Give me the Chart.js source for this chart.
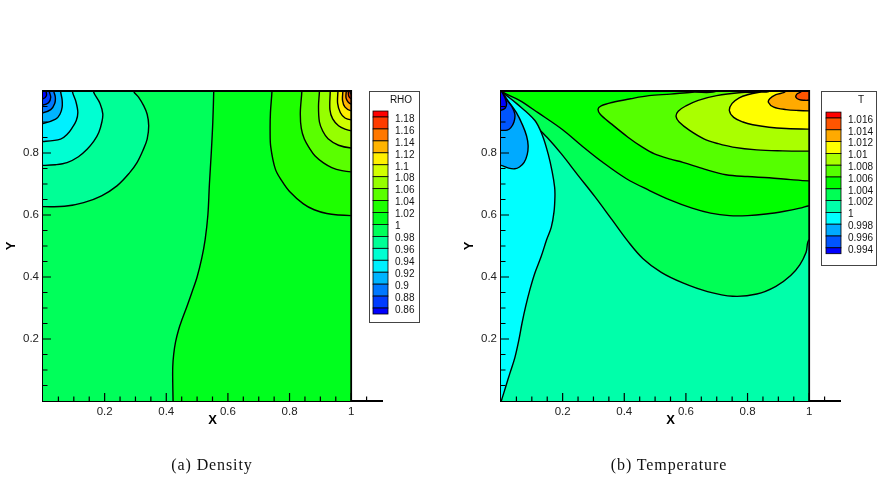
<!DOCTYPE html>
<html>
<head>
<meta charset="utf-8">
<script src="https://cdn.jsdelivr.net/npm/chart.js@4"></script>
<style>
  html, body { margin: 0; padding: 0; background: #fff; }
  body { width: 886px; height: 480px; position: relative; overflow: hidden; }
  .panel { position: absolute; top: 0; width: 428px; height: 480px; }
  .caption {
    position: absolute; top: 455px; line-height: 20px;
    font-family: "Liberation Serif", "Times New Roman", serif; font-size: 16px;
    letter-spacing: 0.9px; color: #111; transform: translateX(-50%); white-space: nowrap;
  }
</style>
</head>
<body>
<div class="panel" style="left:0"><canvas id="rhoChart"></canvas></div>
<div class="panel" style="left:458px"><canvas id="tChart"></canvas></div>
<div class="caption" style="left:212px">(a) Density</div>
<div class="caption" style="left:669px">(b) Temperature</div>
<script>
// legend levels
var rhoLevels = ['1.18', '1.16', '1.14', '1.12', '1.1', '1.08', '1.06', '1.04', '1.02', '1',
    '0.98', '0.96', '0.94', '0.92', '0.9', '0.88', '0.86'];
var tLevels = ['1.016', '1.014', '1.012', '1.01', '1.008', '1.006', '1.004', '1.002', '1',
    '0.998', '0.996', '0.994'];

// axis ticks
var xMajor = [0.2, 0.4, 0.6, 0.8, 1];
var yMajor = [0.2, 0.4, 0.6, 0.8];
var xTicks = [];
for (var i = 0; i <= 21; i++) xTicks.push(i * 5 / 100);
var yTicks = [];
for (var j = 0; j <= 20; j++) yTicks.push(j * 5 / 100);

var domain = [[0, 0], [1, 0], [1, 1], [0, 1]];

// density contour lines (x, y)
var rho100 = [[0.554, 1], [0.551, 0.9], [0.546, 0.8], [0.54, 0.7], [0.535, 0.6], [0.526, 0.52],
    [0.515, 0.46], [0.5, 0.4], [0.483, 0.35], [0.467, 0.305], [0.452, 0.265], [0.44, 0.23],
    [0.43, 0.19], [0.424, 0.15], [0.421, 0.11], [0.421, 0.06], [0.422, 0]];
var rho102 = [[0.743, 1], [0.738, 0.93], [0.737, 0.87], [0.739, 0.82], [0.754, 0.748], [0.775, 0.71],
    [0.8, 0.676], [0.845, 0.636], [0.88, 0.617], [0.921, 0.605], [0.96, 0.6], [1, 0.598]];
var rho104 = [[0.84, 1], [0.835, 0.931], [0.838, 0.88], [0.848, 0.845], [0.865, 0.815], [0.883, 0.79],
    [0.91, 0.768], [0.937, 0.753], [0.97, 0.743], [1, 0.739]];
var rho106 = [[0.897, 1], [0.894, 0.95], [0.897, 0.9], [0.908, 0.87], [0.925, 0.846], [0.959, 0.825], [1, 0.816]];
var rho108 = [[0.932, 1], [0.931, 0.94], [0.94, 0.91], [0.959, 0.888], [0.98, 0.877], [1, 0.872]];
var rho110 = [[0.957, 1], [0.956, 0.96], [0.965, 0.93], [0.98, 0.913], [1, 0.907]];
var rho112 = [[0.973, 1], [0.972, 0.97], [0.98, 0.948], [1, 0.936]];
var rho114 = [[0.984, 1], [0.984, 0.975], [1, 0.958]];
var rho116 = [[0.991, 1], [0.992, 0.984], [1, 0.975]];
var rho118 = [[0.996, 1], [1, 0.99]];
var rho098 = [[0, 0.627], [0.07, 0.628], [0.132, 0.64], [0.19, 0.662], [0.24, 0.694], [0.28, 0.735],
    [0.305, 0.769], [0.325, 0.81], [0.338, 0.845], [0.343, 0.888], [0.338, 0.925], [0.327, 0.952],
    [0.31, 0.98], [0.294, 1]];
var rho096 = [[0, 0.76], [0.04, 0.762], [0.078, 0.769], [0.115, 0.788], [0.143, 0.812], [0.165, 0.838],
    [0.181, 0.866], [0.191, 0.9], [0.194, 0.926], [0.185, 0.96], [0.163, 1]];
var rho094 = [[0, 0.837], [0.057, 0.845], [0.08, 0.862], [0.095, 0.882], [0.108, 0.905], [0.113, 0.931],
    [0.107, 0.965], [0.095, 1]];
var rho092 = [[0, 0.895], [0.041, 0.909], [0.055, 0.925], [0.062, 0.947], [0.062, 0.972], [0.057, 1]];
var rho090 = [[0, 0.93], [0.025, 0.94], [0.038, 0.96], [0.04, 0.98], [0.035, 1]];
var rho088 = [[0, 0.955], [0.018, 0.962], [0.025, 0.98], [0.02, 1]];
var rho086 = [[0, 0.975], [0.011, 0.985], [0.01, 1]];

// temperature contour lines
var t1000 = [[0, 1], [0.05, 0.96], [0.11, 0.905], [0.135, 0.855], [0.153, 0.797], [0.166, 0.74],
    [0.174, 0.69], [0.175, 0.66], [0.172, 0.61], [0.163, 0.56], [0.148, 0.52], [0.13, 0.465],
    [0.11, 0.413], [0.094, 0.36], [0.08, 0.305], [0.068, 0.25], [0.058, 0.197], [0.045, 0.14],
    [0.029, 0.09], [0.015, 0.045], [0.004, 0.01], [0, 0]];
var t1002 = [[0, 1], [0.04, 0.965], [0.1, 0.9], [0.15, 0.85], [0.196, 0.797], [0.25, 0.728],
    [0.304, 0.66], [0.36, 0.585], [0.412, 0.515], [0.46, 0.46], [0.52, 0.415], [0.59, 0.381],
    [0.67, 0.353], [0.752, 0.338], [0.83, 0.345], [0.892, 0.37], [0.94, 0.405], [0.97, 0.44],
    [0.99, 0.48], [1, 0.52]];
var t1004 = [[0, 1], [0.06, 0.97], [0.12, 0.93], [0.2, 0.875], [0.26, 0.825], [0.33, 0.77],
    [0.407, 0.717], [0.482, 0.679], [0.55, 0.648], [0.62, 0.622], [0.68, 0.606], [0.741, 0.598],
    [0.8, 0.598], [0.86, 0.603], [0.92, 0.612], [0.97, 0.622], [1, 0.63]];
var t1006 = [[0.7, 1], [0.62, 0.996], [0.55, 0.99], [0.48, 0.985], [0.42, 0.975], [0.36, 0.963],
    [0.325, 0.952], [0.315, 0.942], [0.322, 0.925], [0.358, 0.894], [0.412, 0.851], [0.46, 0.818],
    [0.498, 0.797], [0.55, 0.78], [0.59, 0.77], [0.66, 0.748], [0.73, 0.73], [0.8, 0.724],
    [0.87, 0.72], [0.94, 0.714], [1, 0.71]];
var t1008 = [[0.86, 1], [0.78, 0.995], [0.7, 0.985], [0.64, 0.97], [0.6, 0.952], [0.575, 0.935],
    [0.568, 0.918], [0.578, 0.9], [0.612, 0.873], [0.66, 0.845], [0.705, 0.83], [0.752, 0.819],
    [0.83, 0.81], [0.914, 0.807], [1, 0.806]];
var t1010 = [[0.87, 1], [0.838, 0.996], [0.8, 0.988], [0.773, 0.978], [0.75, 0.96], [0.741, 0.937],
    [0.755, 0.915], [0.785, 0.9], [0.817, 0.891], [0.87, 0.883], [0.925, 0.879], [1, 0.877]];
var t1012 = [[0.925, 1], [0.892, 0.988], [0.872, 0.975], [0.868, 0.963], [0.885, 0.948], [0.925, 0.94],
    [0.965, 0.937], [1, 0.936]];
var t1014 = [[0.975, 1], [0.96, 0.99], [0.957, 0.98], [0.968, 0.972], [0.985, 0.97], [1, 0.97]];
var t0998 = [[0, 1], [0.025, 0.965], [0.05, 0.93], [0.07, 0.89], [0.083, 0.855], [0.088, 0.824],
    [0.085, 0.795], [0.075, 0.77], [0.06, 0.755], [0.045, 0.749], [0.025, 0.751], [0, 0.76]];
var t0996 = [[0, 1], [0.02, 0.97], [0.035, 0.95], [0.045, 0.925], [0.042, 0.9], [0.032, 0.882],
    [0.02, 0.874], [0, 0.873]];
var t0994 = [[0, 1], [0.012, 0.98], [0.018, 0.96], [0.014, 0.945], [0, 0.938]];

// rainbow band colour, 0 = top of legend (red)
function band(k, n) {
    return 'hsl(' + (240 * k / (n - 1)) + ',100%,50%)';
}

// push the ends of a contour a little past the edge it ends on, so the
// smoothing does not bend the visible part; the square is clipped anyway
var E = 0.04;
function outward(p) {
    var q = [p[0], p[1]];
    if (p[0] <= 0) q[0] = -E;
    if (p[0] >= 1) q[0] = 1 + E;
    if (p[1] <= 0) q[1] = -E;
    if (p[1] >= 1) q[1] = 1 + E;
    return q;
}
function extend(pts) {
    return [outward(pts[0])].concat(pts, [outward(pts[pts.length - 1])]);
}

function region(pts, color, line) {
    return {
        data: pts.map(function (p) { return { x: p[0], y: p[1] }; }),
        showLine: true,
        fill: 'shape',
        backgroundColor: color,
        borderColor: line ? '#000' : 'rgba(0,0,0,0)',
        borderWidth: line ? 1.4 : 0,
        pointRadius: 0,
        tension: line ? 0.35 : 0
    };
}

function buildDatasets(layers, n) {
    return layers.map(function (l, i) {
        var ds = region(l[0], band(l[1], n), l[0] !== domain);
        ds.order = layers.length - i;
        return ds;
    });
}

var TR = [[1 + E, 1 + E]], TL = [[-E, 1 + E]], BR = [[1 + E, -E], [1 + E, 1 + E]];
var rhoLayers = [
    [domain, 10],
    [extend(rho100).concat(BR), 9],
    [extend(rho102).concat(TR), 8], [extend(rho104).concat(TR), 7], [extend(rho106).concat(TR), 6],
    [extend(rho108).concat(TR), 5], [extend(rho110).concat(TR), 4], [extend(rho112).concat(TR), 3],
    [extend(rho114).concat(TR), 2], [extend(rho116).concat(TR), 1], [extend(rho118).concat(TR), 0],
    [extend(rho098).concat(TL), 11], [extend(rho096).concat(TL), 12], [extend(rho094).concat(TL), 13],
    [extend(rho092).concat(TL), 14], [extend(rho090).concat(TL), 15], [extend(rho088).concat(TL), 16],
    [extend(rho086).concat(TL), 17]
];
var tLayers = [
    [domain, 8],
    [extend(t1002).concat(TR), 7], [extend(t1004).concat(TR), 6], [extend(t1006).concat(TR), 5],
    [extend(t1008).concat(TR), 4], [extend(t1010).concat(TR), 3], [extend(t1012).concat(TR), 2],
    [extend(t1014).concat(TR), 1],
    [extend(t1000), 9], [extend(t0998), 10], [extend(t0996), 11], [extend(t0994), 12]
];

function isMajor(v, list) {
    return list.some(function (m) { return Math.abs(m - v) < 1e-6; });
}

// clip fills to the unit square, then frame, inward ticks and the level legend
var contourFrame = {
    id: 'contourFrame',
    beforeDatasetsDraw: function (chart) {
        var ctx = chart.ctx, x = chart.scales.x, y = chart.scales.y;
        var l = x.getPixelForValue(0), r = x.getPixelForValue(1);
        var t = y.getPixelForValue(1), b = y.getPixelForValue(0);
        ctx.save();
        ctx.beginPath();
        ctx.rect(l, t, r - l, b - t);
        ctx.clip();
    },
    afterDatasetsDraw: function (chart) {
        chart.ctx.restore();
    },
    afterDraw: function (chart, args, opts) {
        var ctx = chart.ctx, x = chart.scales.x, y = chart.scales.y;
        var l = x.getPixelForValue(0), r = x.getPixelForValue(1);
        var t = y.getPixelForValue(1), b = y.getPixelForValue(0);
        ctx.save();
        ctx.strokeStyle = '#000';
        ctx.lineWidth = 1.8;
        ctx.beginPath();
        ctx.moveTo(l, t); ctx.lineTo(r, t); ctx.lineTo(r, b);
        ctx.stroke();

        ctx.lineWidth = 1.2;
        ctx.beginPath();
        x.ticks.forEach(function (tk) {
            if (tk.value === 0) return;
            var px = x.getPixelForValue(tk.value);
            var len = isMajor(tk.value, xMajor) ? 8 : 4.5;
            ctx.moveTo(px, b); ctx.lineTo(px, b - len);
        });
        y.ticks.forEach(function (tk) {
            if (tk.value === 0 || tk.value === 1) return;
            var py = y.getPixelForValue(tk.value);
            var len = isMajor(tk.value, yMajor) ? 8 : 4.5;
            ctx.moveTo(l, py); ctx.lineTo(l + len, py);
        });
        ctx.stroke();

        // legend
        var L = opts;
        ctx.fillStyle = '#fff';
        ctx.fillRect(L.left, L.top, L.width, L.height);
        ctx.strokeStyle = '#444';
        ctx.lineWidth = 1;
        ctx.strokeRect(L.left + 0.5, L.top + 0.5, L.width, L.height);
        ctx.fillStyle = '#111';
        ctx.font = '10px "Liberation Sans", Arial, sans-serif';
        ctx.textAlign = 'center';
        ctx.textBaseline = 'middle';
        ctx.fillText(L.title, L.titleX, L.top + 9);
        var n = L.levels.length + 1;
        for (var k = 0; k < n; k++) {
            var top = k === 0 ? L.first - L.step / 2 : L.first + (k - 1) * L.step;
            var bot = k === n - 1 ? top + L.step / 2 : L.first + k * L.step;
            ctx.fillStyle = band(k, n);
            ctx.fillRect(L.swatchX, top, L.swatchW, bot - top);
            ctx.strokeStyle = '#000';
            ctx.lineWidth = 0.8;
            ctx.strokeRect(L.swatchX, top, L.swatchW, bot - top);
        }
        ctx.fillStyle = '#111';
        ctx.textAlign = 'left';
        L.levels.forEach(function (lab, i) {
            ctx.fillText(lab, L.labelX, L.first + i * L.step + 2);
        });
        ctx.restore();
    }
};

var tickFont = { family: '"Liberation Sans", Arial, sans-serif', size: 11.5 };
var titleFont = { family: '"Liberation Sans", Arial, sans-serif', size: 13, weight: 'bold' };

function makeOptions(legend) {
    return {
        responsive: true,
        maintainAspectRatio: false,
        animation: false,
        events: [],
        layout: { padding: { left: 0, right: 46, top: 91, bottom: 49 } },
        plugins: {
            legend: { display: false },
            tooltip: { enabled: false },
            contourFrame: legend
        },
        scales: {
            x: {
                type: 'linear', min: 0, max: 1.1, z: 1,
                grid: { display: false, drawTicks: false },
                border: { display: true, color: '#000', width: 2 },
                title: { display: true, text: 'X', color: '#000', font: titleFont, padding: { top: 0, bottom: 3 } },
                afterBuildTicks: function (s) { s.ticks = xTicks.map(function (v) { return { value: v }; }); },
                afterFit: function (s) { s.height = 30; },
                ticks: {
                    autoSkip: false, maxRotation: 0, color: '#222', font: tickFont, padding: 4,
                    callback: function (v) { return isMajor(v, xMajor) ? String(Math.round(v * 10) / 10) : ''; }
                }
            },
            y: {
                type: 'linear', min: 0, max: 1, z: 1,
                grid: { display: false, drawTicks: false },
                border: { display: true, color: '#000', width: 2 },
                title: { display: true, text: 'Y', color: '#000', font: titleFont, padding: { top: 4, bottom: 0 } },
                afterBuildTicks: function (s) { s.ticks = yTicks.map(function (v) { return { value: v }; }); },
                afterFit: function (s) { s.width = 43; },
                ticks: {
                    autoSkip: false, color: '#222', font: tickFont, padding: 4,
                    callback: function (v) { return isMajor(v, yMajor) ? String(Math.round(v * 10) / 10) : ''; }
                }
            }
        }
    };
}

var rhoChart = new Chart(document.getElementById('rhoChart').getContext('2d'), {
    type: 'scatter',
    data: { datasets: buildDatasets(rhoLayers, rhoLevels.length + 1) },
    options: makeOptions({
        left: 369, top: 91, width: 50, height: 231, title: 'RHO', titleX: 401,
        swatchX: 373, swatchW: 15, labelX: 395, first: 117, step: 11.94, levels: rhoLevels
    }),
    plugins: [contourFrame]
});

var tChart = new Chart(document.getElementById('tChart').getContext('2d'), {
    type: 'scatter',
    data: { datasets: buildDatasets(tLayers, tLevels.length + 1) },
    options: makeOptions({
        left: 363, top: 91, width: 55, height: 174, title: 'T', titleX: 403,
        swatchX: 368, swatchW: 15, labelX: 390, first: 118, step: 11.8, levels: tLevels
    }),
    plugins: [contourFrame]
});
</script>
</body>
</html>
